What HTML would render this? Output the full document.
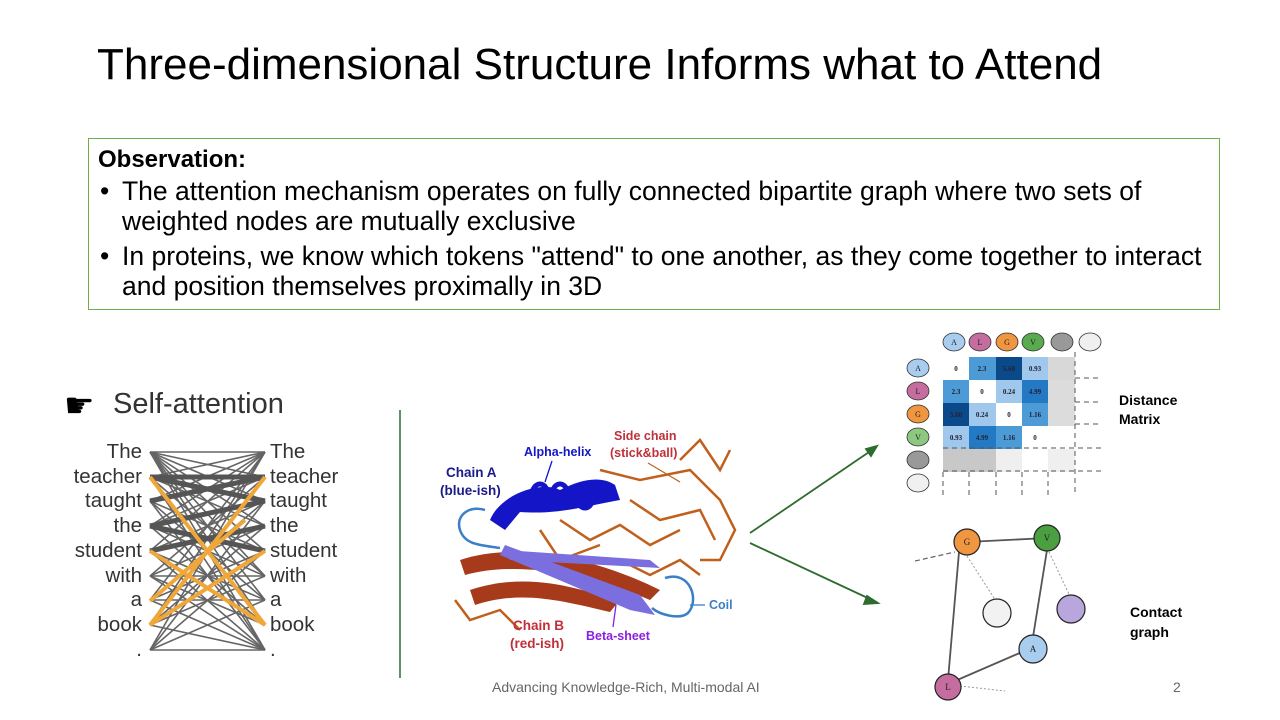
<!DOCTYPE html>
<html><head><meta charset="utf-8"><style>
body{margin:0;width:1280px;height:720px;background:#fff;position:relative;overflow:hidden;font-family:"Liberation Sans",sans-serif}
.a{position:absolute;white-space:nowrap}
</style></head><body>
<div class="a" style="left:97px;top:40px;font-size:44px;color:#000">Three-dimensional Structure Informs what to Attend</div>
<div class="a" style="left:88px;top:138px;width:1130px;height:170px;border:1px solid #70ad47"></div>
<div class="a" style="left:98px;top:146px;font-size:24px;font-weight:bold;color:#000">Observation:</div>
<div class="a" style="left:100px;top:176px;font-size:26.5px;line-height:30px;color:#000">•</div>
<div class="a" style="left:122px;top:176px;font-size:26.5px;line-height:30px;color:#000">The attention mechanism operates on fully connected bipartite graph where two sets of<br>weighted nodes are mutually exclusive</div>
<div class="a" style="left:100px;top:241px;font-size:26.5px;line-height:30px;color:#000">•</div>
<div class="a" style="left:122px;top:241px;font-size:26.5px;line-height:30px;color:#000">In proteins, we know which tokens "attend" to one another, as they come together to interact<br>and position themselves proximally in 3D</div>

<div class="a" style="left:64px;top:386px;font-size:34px;color:#000">☛</div>
<div class="a" style="left:113px;top:388px;font-size:29px;color:#333">Self-attention</div>
<svg class="a" style="left:0;top:0" width="1280" height="720">
<g stroke="#555" stroke-width="1.6" opacity="0.9">
<line x1="150" y1="452" x2="265" y2="452"/><line x1="150" y1="452" x2="265" y2="477"/><line x1="150" y1="452" x2="265" y2="501"/><line x1="150" y1="452" x2="265" y2="526"/><line x1="150" y1="452" x2="265" y2="551"/><line x1="150" y1="452" x2="265" y2="576"/><line x1="150" y1="452" x2="265" y2="600"/><line x1="150" y1="452" x2="265" y2="625"/><line x1="150" y1="452" x2="265" y2="650"/>
<line x1="150" y1="477" x2="265" y2="452"/><line x1="150" y1="477" x2="265" y2="501"/><line x1="150" y1="477" x2="265" y2="526"/><line x1="150" y1="477" x2="265" y2="576"/><line x1="150" y1="477" x2="265" y2="625"/><line x1="150" y1="477" x2="265" y2="650"/>
<line x1="150" y1="501" x2="265" y2="452"/><line x1="150" y1="501" x2="265" y2="477"/><line x1="150" y1="501" x2="265" y2="551"/><line x1="150" y1="501" x2="265" y2="600"/><line x1="150" y1="501" x2="265" y2="650"/>
<line x1="150" y1="526" x2="265" y2="452"/><line x1="150" y1="526" x2="265" y2="477"/><line x1="150" y1="526" x2="265" y2="576"/><line x1="150" y1="526" x2="265" y2="625"/>
<line x1="150" y1="551" x2="265" y2="452"/><line x1="150" y1="551" x2="265" y2="501"/><line x1="150" y1="551" x2="265" y2="600"/><line x1="150" y1="551" x2="265" y2="650"/>
<line x1="150" y1="576" x2="265" y2="477"/><line x1="150" y1="576" x2="265" y2="526"/><line x1="150" y1="576" x2="265" y2="576"/><line x1="150" y1="576" x2="265" y2="625"/><line x1="150" y1="576" x2="265" y2="650"/>
<line x1="150" y1="600" x2="265" y2="452"/><line x1="150" y1="600" x2="265" y2="501"/><line x1="150" y1="600" x2="265" y2="551"/><line x1="150" y1="600" x2="265" y2="600"/><line x1="150" y1="600" x2="265" y2="650"/>
<line x1="150" y1="625" x2="265" y2="452"/><line x1="150" y1="625" x2="265" y2="477"/><line x1="150" y1="625" x2="265" y2="526"/><line x1="150" y1="625" x2="265" y2="576"/><line x1="150" y1="625" x2="265" y2="650"/>
<line x1="150" y1="650" x2="265" y2="452"/><line x1="150" y1="650" x2="265" y2="501"/><line x1="150" y1="650" x2="265" y2="551"/><line x1="150" y1="650" x2="265" y2="600"/><line x1="150" y1="650" x2="265" y2="650"/>
</g>
<g stroke="#555" stroke-width="5">
<line x1="150" y1="477" x2="265" y2="477"/><line x1="150" y1="501" x2="265" y2="477"/><line x1="150" y1="526" x2="265" y2="501"/><line x1="150" y1="551" x2="265" y2="526"/><line x1="150" y1="477" x2="265" y2="501"/><line x1="150" y1="526" x2="265" y2="551"/>
</g>
<g stroke="#f0a73a" stroke-width="4">
<line x1="150" y1="477" x2="265" y2="625"/><line x1="150" y1="551" x2="265" y2="625"/><line x1="150" y1="625" x2="265" y2="477"/><line x1="150" y1="625" x2="265" y2="551"/><line x1="150" y1="601" x2="245" y2="520"/>
</g>
<line x1="400" y1="410" x2="400" y2="678" stroke="#2e6b2e" stroke-width="1.5"/>
<!-- protein -->
<g>
<g stroke="#c0601c" stroke-width="2.5" fill="none">
<path d="M600 470 L640 480 L690 470 L720 500 L735 530 L720 560 L700 560"/>
<path d="M680 460 L700 440 L720 470 L730 450"/>
<path d="M630 500 L660 520 L700 510 L715 540"/>
<path d="M560 520 L590 540 L620 525 L650 545 L680 530"/>
<path d="M455 600 L470 620 L500 610 L520 630"/>
<path d="M620 560 L650 575 L680 560 L700 575"/>
<path d="M540 530 L560 560 L600 545"/>
</g>
<path d="M460 560 C520 540 600 560 660 590 L650 600 C590 575 520 560 465 575 Z" fill="#a83a1c"/>
<path d="M470 590 C530 570 580 590 620 600 L610 612 C560 600 520 590 475 605 Z" fill="#a83a1c"/>
<path d="M505 550 L650 560 L660 568 L510 560 Z" fill="#7b6fe0"/>
<path d="M505 545 L640 595 L655 615 L630 610 L500 555 Z" fill="#7b6fe0"/>
<path d="M490 520 C500 495 540 480 560 490 C580 480 600 475 615 485 L620 500 C590 505 560 515 520 512 L505 530 Z" fill="#1515c8"/>
<ellipse cx="540" cy="495" rx="8" ry="11" fill="none" stroke="#1515c8" stroke-width="5"/>
<ellipse cx="560" cy="495" rx="8" ry="11" fill="none" stroke="#1515c8" stroke-width="5"/>
<ellipse cx="585" cy="497" rx="8" ry="11" fill="none" stroke="#1515c8" stroke-width="5"/>
<path d="M485 510 C470 505 455 515 460 530 C465 545 480 545 500 548" fill="none" stroke="#3a7fc8" stroke-width="2.5"/>
<path d="M665 578 C690 570 700 600 688 613 C680 620 660 615 652 608" fill="none" stroke="#3a7fc8" stroke-width="2.5"/>
</g>
<g font-family="Liberation Sans" font-weight="bold" font-size="12.5">
<text x="524" y="456" fill="#1515c8">Alpha-helix</text>
<text x="446" y="477" fill="#1a1a8a" font-size="13.5">Chain A</text>
<text x="440" y="495" fill="#1a1a8a" font-size="13.5">(blue-ish)</text>
<text x="614" y="440" fill="#c0303a">Side chain</text>
<text x="610" y="457" fill="#c0303a">(stick&amp;ball)</text>
<text x="513" y="630" fill="#c0303a" font-size="13.5">Chain B</text>
<text x="510" y="648" fill="#c0303a" font-size="13.5">(red-ish)</text>
<text x="586" y="640" fill="#8a20e0">Beta-sheet</text>
<text x="709" y="609" fill="#3a7fc8">Coil</text>
</g>
<g stroke-width="1.3" fill="none">
<line x1="552" y1="461" x2="545" y2="482" stroke="#1515c8"/>
<line x1="648" y1="463" x2="680" y2="482" stroke="#c06020"/>
<line x1="613" y1="627" x2="616" y2="605" stroke="#8a20e0"/>
<line x1="705" y1="605" x2="690" y2="605" stroke="#3a7fc8"/>
</g>
<g stroke="#2e6b2e" stroke-width="1.8" fill="#2e6b2e">
<line x1="750" y1="533" x2="872" y2="450"/><polygon points="877,446 866,449 871,456"/>
<line x1="750" y1="543" x2="872" y2="600"/><polygon points="878,603 867,596 864,604"/>
</g>
<g font-family="Liberation Serif" font-size="7" font-weight="bold" text-anchor="middle">
<rect x="943" y="357" width="26" height="23" fill="#fff"/>
<rect x="969" y="357" width="27" height="23" fill="#4c9ad6"/>
<rect x="996" y="357" width="26" height="23" fill="#0b4a8a"/>
<rect x="1022" y="357" width="26" height="23" fill="#a0c8ec"/>
<rect x="1048" y="357" width="27" height="23" fill="#d8d8d8"/>
<rect x="943" y="380" width="26" height="23" fill="#4c9ad6"/>
<rect x="996" y="380" width="26" height="23" fill="#a0c8ec"/>
<rect x="1022" y="380" width="26" height="23" fill="#2479c4"/>
<rect x="1048" y="380" width="27" height="46" fill="#dcdcdc"/>
<rect x="943" y="403" width="26" height="23" fill="#0b4a8a"/>
<rect x="969" y="403" width="27" height="23" fill="#a0c8ec"/>
<rect x="1022" y="403" width="26" height="23" fill="#4c9ad6"/>
<rect x="943" y="426" width="26" height="23" fill="#a0c8ec"/>
<rect x="969" y="426" width="27" height="23" fill="#2479c4"/>
<rect x="996" y="426" width="26" height="23" fill="#4c9ad6"/>
<rect x="943" y="449" width="53" height="23" fill="#c8c8c8"/>
<rect x="996" y="449" width="26" height="23" fill="#efefef"/>
<rect x="1048" y="449" width="27" height="23" fill="#efefef"/>
<g fill="#223">
<text x="956" y="371">0</text><text x="982" y="371">2.3</text><text x="1009" y="371">5.60</text><text x="1035" y="371">0.93</text>
<text x="956" y="394">2.3</text><text x="982" y="394">0</text><text x="1009" y="394">0.24</text><text x="1035" y="394">4.99</text>
<text x="956" y="417">5.60</text><text x="982" y="417">0.24</text><text x="1009" y="417">0</text><text x="1035" y="417">1.16</text>
<text x="956" y="440">0.93</text><text x="982" y="440">4.99</text><text x="1009" y="440">1.16</text><text x="1035" y="440">0</text>
</g>
</g>
<g stroke="#555" stroke-width="1" stroke-dasharray="5,4" fill="none">
<line x1="1075" y1="352" x2="1075" y2="495"/>
<line x1="1075" y1="378" x2="1102" y2="378"/><line x1="1075" y1="402" x2="1102" y2="402"/><line x1="1075" y1="424" x2="1102" y2="424"/>
<line x1="943" y1="448" x2="1102" y2="448"/><line x1="943" y1="471" x2="1102" y2="471"/>
<line x1="943" y1="472" x2="943" y2="495"/><line x1="969" y1="472" x2="969" y2="495"/><line x1="996" y1="472" x2="996" y2="495"/><line x1="1022" y1="472" x2="1022" y2="495"/><line x1="1048" y1="472" x2="1048" y2="495"/>
</g>
<g stroke="#333" stroke-width="0.8">
<ellipse cx="954" cy="342" rx="11" ry="9" fill="#a9cdee"/><ellipse cx="980" cy="342" rx="11" ry="9" fill="#c66da0"/>
<ellipse cx="1007" cy="342" rx="11" ry="9" fill="#f09540"/><ellipse cx="1033" cy="342" rx="11" ry="9" fill="#5aab50"/>
<ellipse cx="1062" cy="342" rx="11" ry="9" fill="#999"/><ellipse cx="1090" cy="342" rx="11" ry="9" fill="#f0f0f0"/>
<ellipse cx="918" cy="368" rx="11" ry="9" fill="#a9cdee"/><ellipse cx="918" cy="391" rx="11" ry="9" fill="#c66da0"/>
<ellipse cx="918" cy="414" rx="11" ry="9" fill="#f09540"/><ellipse cx="918" cy="437" rx="11" ry="9" fill="#8cc880"/>
<ellipse cx="918" cy="460" rx="11" ry="9" fill="#999"/><ellipse cx="918" cy="483" rx="11" ry="9" fill="#f0f0f0"/>
</g>
<g font-family="Liberation Serif" font-size="8" text-anchor="middle" fill="#222">
<text x="954" y="345">A</text><text x="980" y="345">L</text><text x="1007" y="345">G</text><text x="1033" y="345">V</text>
<text x="918" y="371">A</text><text x="918" y="394">L</text><text x="918" y="417">G</text><text x="918" y="440">V</text>
</g>
<g stroke="#555" stroke-width="1.8">
<line x1="967" y1="542" x2="1047" y2="538"/><line x1="959" y1="552" x2="948" y2="680"/>
<line x1="1047" y1="550" x2="1033" y2="637"/><line x1="948" y1="684" x2="1022" y2="652"/>
</g>
<g stroke="#999" stroke-width="1" stroke-dasharray="2,2">
<line x1="967" y1="556" x2="994" y2="598"/><line x1="1049" y1="552" x2="1069" y2="594"/>
<line x1="960" y1="686" x2="1005" y2="691"/>
</g>
<line x1="915" y1="561" x2="955" y2="552" stroke="#666" stroke-width="1.2" stroke-dasharray="5,3"/>
<g stroke="#222" stroke-width="1.2">
<circle cx="967" cy="542" r="13" fill="#f09540"/><circle cx="1047" cy="538" r="13" fill="#4aa040"/>
<circle cx="997" cy="613" r="14" fill="#f2f2f2"/><circle cx="1071" cy="609" r="14" fill="#b8a6dc"/>
<circle cx="1033" cy="649" r="14" fill="#a9cdee"/><circle cx="948" cy="687" r="13" fill="#c66da0"/>
</g>
<g font-family="Liberation Serif" font-size="9" text-anchor="middle" fill="#222">
<text x="967" y="545">G</text><text x="1047" y="541">V</text><text x="1033" y="652">A</text><text x="948" y="690">L</text>
</g>
<g font-family="Liberation Sans" font-weight="bold" font-size="14" fill="#000">
<text x="1119" y="405">Distance</text><text x="1119" y="424">Matrix</text>
<text x="1130" y="617">Contact</text><text x="1130" y="637">graph</text>
</g>
</svg>
<div class="a" style="left:0;top:440px;width:142px;text-align:right;font-size:20.5px;line-height:24.7px;color:#333">The<br>teacher<br>taught<br>the<br>student<br>with<br>a<br>book<br>.</div>
<div class="a" style="left:270px;top:440px;font-size:20.5px;line-height:24.7px;color:#333">The<br>teacher<br>taught<br>the<br>student<br>with<br>a<br>book<br>.</div>
<div class="a" style="left:492px;top:679px;font-size:14px;color:#666">Advancing Knowledge-Rich, Multi-modal AI</div>
<div class="a" style="left:1173px;top:679px;font-size:14px;color:#666">2</div>
</body></html>
